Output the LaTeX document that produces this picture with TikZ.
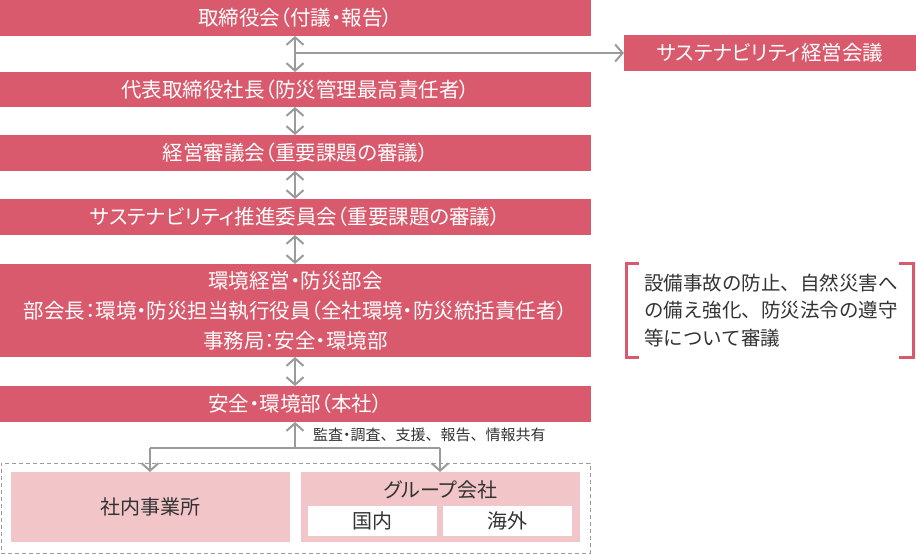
\documentclass[tikz,border=0pt]{standalone}
\usepackage{fontspec}
\setmainfont{Noto Sans CJK JP}[RawFeature=+palt]
\newfontfamily\jpfull{Noto Sans CJK JP}
\usetikzlibrary{arrows.meta}
\definecolor{darkpink}{HTML}{D85A6C}
\definecolor{lightpink}{HTML}{F2C5C8}
\definecolor{arrowgray}{HTML}{9B9B9B}
\definecolor{textdark}{HTML}{333333}
\tikzset{
  darkbox/.style={fill=darkpink, text=white, inner sep=0pt, outer sep=0pt, align=center,
    font=\fontsize{20.5}{30}\selectfont},
  lightbox/.style={fill=lightpink, text=textdark, inner sep=0pt, outer sep=0pt,
    font=\fontsize{20}{24}\selectfont},
  whitebox/.style={fill=white, text=textdark, inner sep=0pt, outer sep=0pt,
    font=\fontsize{20}{24}\selectfont},
  conn/.style={draw=arrowgray, line width=2pt},
  tip/.style={-{Straight Barb[length=7.5pt,width=17pt,line width=2pt]}},
  dtip/.style={{Straight Barb[length=7.5pt,width=17pt,line width=2pt]}-{Straight Barb[length=7.5pt,width=17pt,line width=2pt]}},
  bracketline/.style={draw=darkpink, line width=3pt},
}
\begin{document}
\begin{tikzpicture}[x=1pt,y=-1pt]
\useasboundingbox (0,0) rectangle (916,554);
% left column
\node[darkbox, minimum width=591pt, minimum height=36pt] (b1) at (295.5,18) {取締役会（付議・報告）};
\node[darkbox, minimum width=591pt, minimum height=35pt] (b2) at (295.5,89.5) {代表取締役社長（防災管理最高責任者）};
\node[darkbox, minimum width=591pt, minimum height=36pt] (b3) at (295.5,153) {経営審議会（重要課題の審議）};
\node[darkbox, minimum width=591pt, minimum height=36pt] (b4) at (295.5,217) {サステナビリティ推進委員会（重要課題の審議）};
\node[darkbox, minimum width=591pt, minimum height=93pt] (b5) at (295.5,310.5) {環境経営・防災部会\\部会長：環境・防災担当執行役員（全社環境・防災統括責任者）\\事務局：安全・環境部};
\node[darkbox, minimum width=591pt, minimum height=36pt] (b6) at (295.5,404) {安全・環境部（本社）};
% right box
\node[darkbox, minimum width=292pt, minimum height=36pt] (sr) at (770,53) {サステナビリティ経営会議};
% connectors
\coordinate (ax) at (295,0);
\coordinate (hm) at (295,53);
\draw[conn, dtip] (b1.south -| ax) -- (b2.north -| ax);
\draw[conn, tip] (hm) -- (sr.west);
\draw[conn, dtip] (b2.south -| ax) -- (b3.north -| ax);
\draw[conn, dtip] (b3.south -| ax) -- (b4.north -| ax);
\draw[conn, dtip] (b4.south -| ax) -- (b5.north -| ax);
\draw[conn, dtip] (b5.south -| ax) -- (b6.north -| ax);
% bracket text
\node[text=textdark, anchor=west, align=left, inner sep=0pt, font=\jpfull\fontsize{19.5}{27.5}\selectfont] (note) at (644,310.5) {設備事故の防止、自然災害へ\\の備え強化、防災法令の遵守\\等について審議};
\coordinate (bl1) at (639,263);
\coordinate (bl2) at (626,263);
\coordinate (bl3) at (626,357);
\coordinate (bl4) at (639,357);
\draw[bracketline] (bl1) -- (bl2) -- (bl3) -- (bl4);
\coordinate (br1) at (899,263);
\coordinate (br2) at (913,263);
\coordinate (br3) at (913,357);
\coordinate (br4) at (899,357);
\draw[bracketline] (br1) -- (br2) -- (br3) -- (br4);
% bottom group
\node[draw=arrowgray, line width=1pt, dash pattern=on 4pt off 3pt, minimum width=589pt, minimum height=90pt, inner sep=0pt, outer sep=0pt] (grp) at (295.5,508) {};
\node[lightbox, minimum width=279pt, minimum height=70pt] (in1) at (150.5,507) {社内事業所};
\node[lightbox, minimum width=279pt, minimum height=70pt] (in2) at (440.5,507) {};
\node[text=textdark, inner sep=0pt, font=\fontsize{20}{24}\selectfont] (gl) at (440.5,490) {グループ会社};
\node[whitebox, minimum width=129pt, minimum height=30pt] (w1) at (372.5,521) {国内};
\node[whitebox, minimum width=129pt, minimum height=30pt] (w2) at (507.5,521) {海外};
% bottom connectors
\coordinate (j) at (295,448);
\coordinate (jl) at (150,448);
\coordinate (jr) at (440,448);
\draw[conn, tip] (j) -- (b6.south -| j);
\draw[conn] (jl) -- (jr);
\draw[conn, tip] (jl) -- (in1.north -| jl);
\draw[conn, tip] (jr) -- (in2.north -| jr);
\node[text=textdark, anchor=west, inner sep=0pt, font=\fontsize{15}{18}\selectfont] (lab) at (313,435) {{\jpfull 監査}・{\jpfull 調査、支援、報告、情報共有}};
\end{tikzpicture}
\end{document}
